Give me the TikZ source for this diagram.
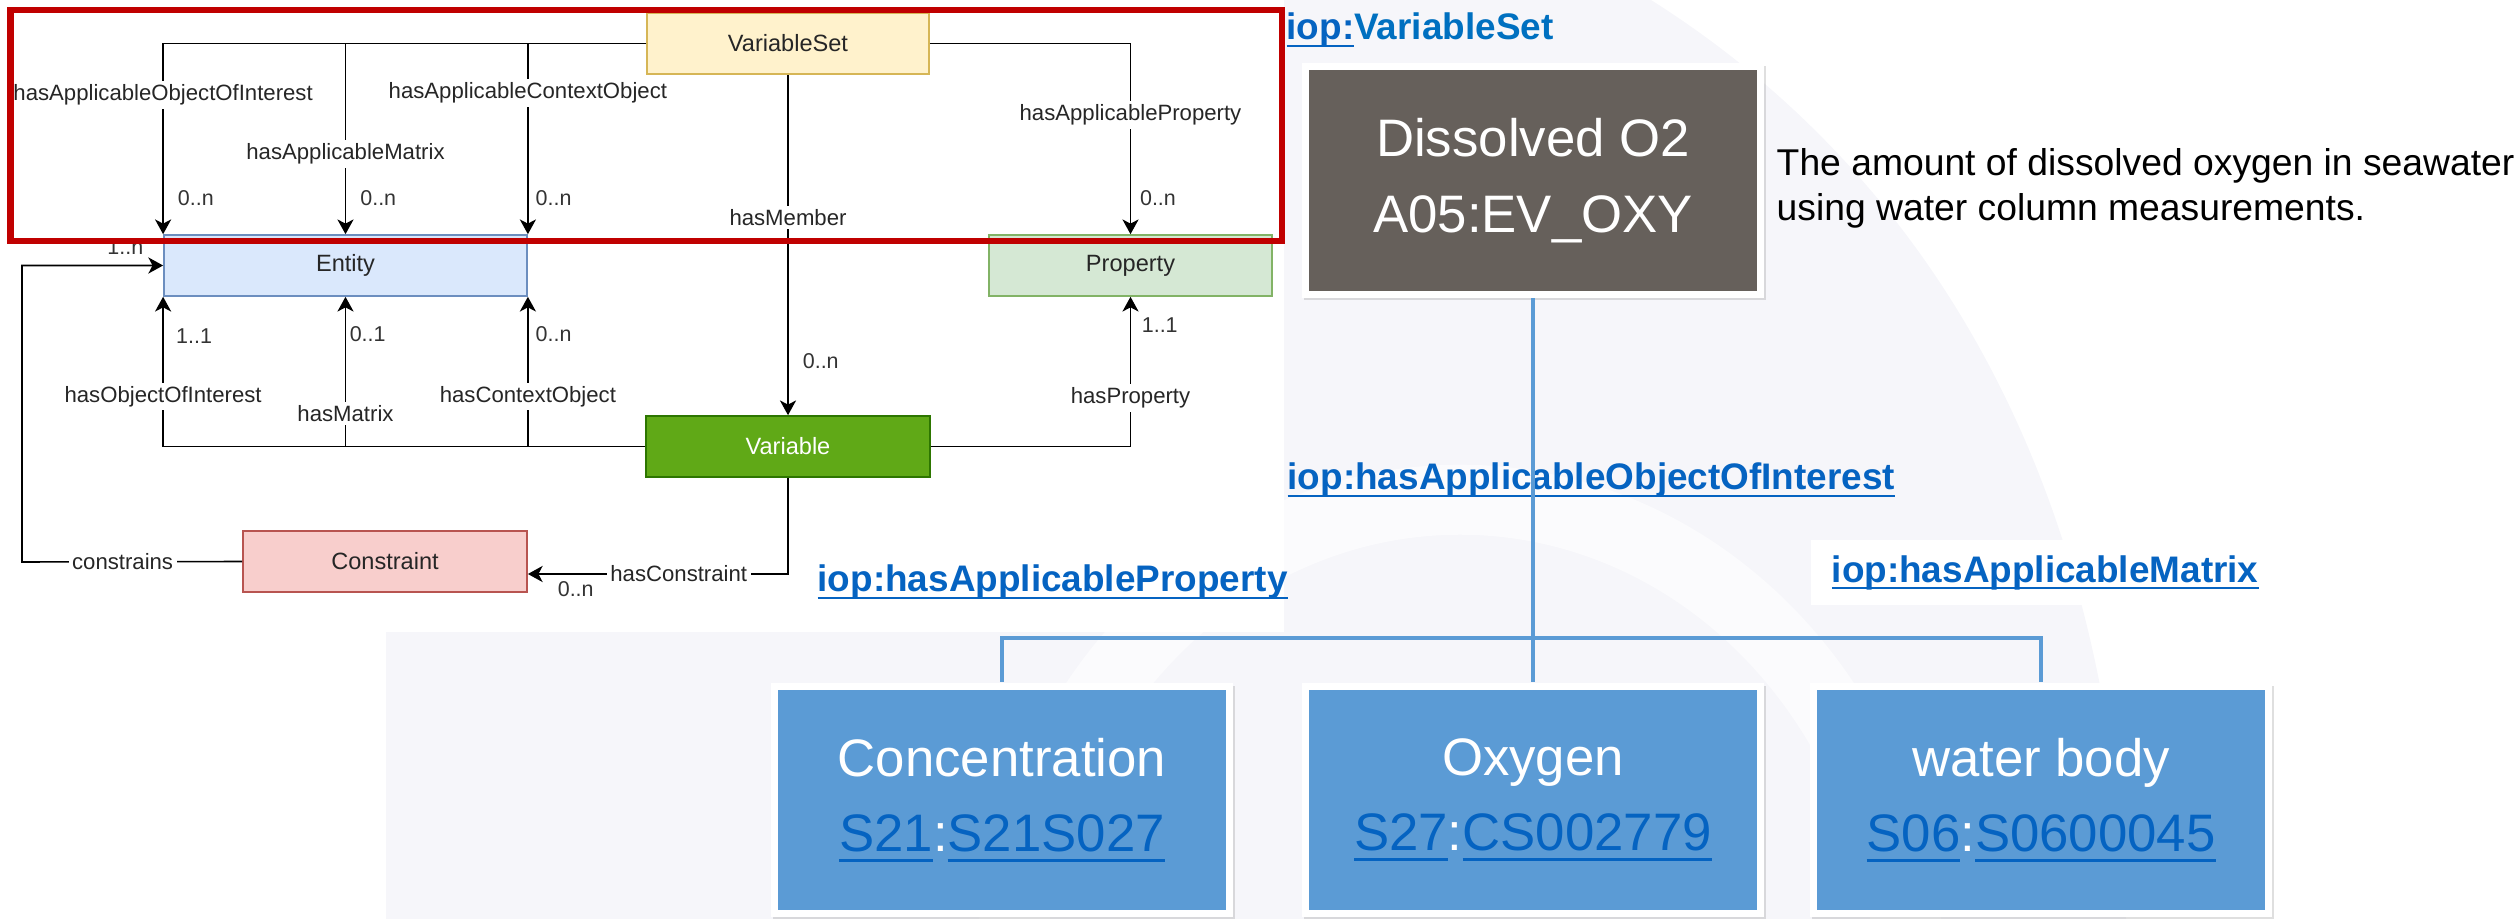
\documentclass[tikz,border=0pt]{standalone}
\usepackage{fontspec}
\setmainfont{Liberation Sans}
\usetikzlibrary{arrows.meta,positioning,shadows}

\definecolor{vsetfill}{HTML}{FFF2CC}
\definecolor{vsetline}{HTML}{D6B656}
\definecolor{entfill}{HTML}{DAE8FC}
\definecolor{entline}{HTML}{6C8EBF}
\definecolor{propfill}{HTML}{D5E8D4}
\definecolor{propline}{HTML}{82B366}
\definecolor{varfill}{HTML}{60A917}
\definecolor{varline}{HTML}{2D7600}
\definecolor{consfill}{HTML}{F8CECC}
\definecolor{consline}{HTML}{B85450}
\definecolor{framered}{HTML}{C00000}
\definecolor{slate}{HTML}{66605B}
\definecolor{cardblue}{HTML}{5B9BD5}
\definecolor{linkblue}{HTML}{0563C1}
\definecolor{iopblue}{HTML}{0070C0}
\definecolor{slidebg}{HTML}{F6F6FA}

\newcommand{\lnk}[1]{\setbox0\hbox{#1}\rlap{\rule[-0.2em]{\wd0}{0.065em}}\box0}
\newcommand{\vocab}[2]{{\color{linkblue}\lnk{#1}}:{\color{linkblue}\lnk{#2}}}

\begin{document}
\begin{tikzpicture}[
  x=0.01cm, y=-0.01cm,
  >={Stealth[length=4.2pt,width=4.6pt,inset=1.2pt]},
  box/.style={
    draw,
    line width=0.45pt,
    minimum height=0.61cm,
    inner sep=0pt,
    font=\fontsize{6.7}{8}\selectfont,
    text=black!85
  },
  lbl/.style={fill=white, inner sep=1pt, font=\fontsize{6.3}{7}\selectfont, text=black!85},
  mult/.style={inner sep=1pt, font=\fontsize{6.1}{7}\selectfont, text=black!80},
  rel/.style={->, line width=0.45pt},
  tree/.style={draw=cardblue, line width=1.4pt},
  card/.style={
    fill=white,
    minimum width=4.62cm,
    minimum height=2.34cm,
    inner sep=0pt,
    text=white,
    align=center,
    font=\fontsize{15}{21.5}\selectfont,
    drop shadow={shadow xshift=0.5pt, shadow yshift=-0.8pt, opacity=0.25},
    path picture={\fill[#1] ([xshift=0.07cm,yshift=0.07cm]path picture bounding box.south west)
      rectangle ([xshift=-0.07cm,yshift=-0.07cm]path picture bounding box.north east);}
  },
  iop/.style={anchor=west, inner sep=0pt, text=linkblue, font=\fontsize{10.5}{12}\selectfont\bfseries}
]
\useasboundingbox (0,0) rectangle (2519,919);

% Slide background
\fill[slidebg] (1284,0) -- (1651,0) .. controls (1920,170) and (2110,470) .. (2126,919)
  -- (386,919) -- (386,632) -- (1284,632) -- cycle;
\begin{scope}
  \clip (1284,0) -- (1651,0) .. controls (1920,170) and (2110,470) .. (2126,919)
    -- (386,919) -- (386,632) -- (1284,632) -- cycle;
  \draw[white, opacity=0.6, line width=0.7cm] (1460,990) ellipse [x radius=4.5cm, y radius=4.9cm];
\end{scope}

% Model boxes
\node[box, fill=vsetfill, draw=vsetline, minimum width=2.82cm] (vset) at (788,43.5) {VariableSet};
\node[box, fill=entfill, draw=entline, minimum width=3.63cm] (ent) at (345.5,265.5) {Entity};
\node[box, fill=propfill, draw=propline, minimum width=2.83cm] (prop) at (1130.5,265.5) {Property};
\node[box, fill=varfill, draw=varline, minimum width=2.84cm, text=white] (var) at (788,446.5) {Variable};
\node[box, fill=consfill, draw=consline, minimum width=2.84cm] (cons) at (385,561.5) {Constraint};
\coordinate (bend) at (22,562);

% Relations from VariableSet
\draw[rel] (vset.west) -| node[lbl, pos=0.635] {hasApplicableObjectOfInterest}
  node[mult, pos=0.906, right, xshift=3pt] {0..n} (ent.north west);
\draw[rel] (vset.west) -| node[lbl, pos=0.79] {hasApplicableMatrix}
  node[mult, pos=0.906, right, xshift=3pt] {0..n} (ent.north);
\draw[rel] (vset.west) -| node[lbl, pos=0.63] {hasApplicableContextObject}
  node[mult, pos=0.906, right, xshift=1pt] {0..n} (ent.north east);
\draw[rel] (vset.east) -| node[lbl, pos=0.6875] {hasApplicableProperty}
  node[mult, pos=0.906, right, xshift=1.5pt] {0..n} (prop.north);
\draw[rel] (vset.south) -- node[lbl, pos=0.42] {hasMember}
  node[mult, pos=0.84, right, xshift=3pt] {0..n} (var.north);

% Relations from Variable
\draw[rel] (var.west) -| node[lbl, pos=0.667] {hasObjectOfInterest}
  node[mult, pos=0.87, right, xshift=2.5pt] {1..1} (ent.south west);
\draw[rel] (var.west) -| node[lbl, pos=0.61] {hasMatrix}
  node[mult, pos=0.877, right] {0..1} (ent.south);
\draw[rel] (var.west) -| node[lbl, pos=0.667] {hasContextObject}
  node[mult, pos=0.877, right, xshift=1pt] {0..n} (ent.south east);
\draw[rel] (var.east) -| node[lbl, pos=0.663] {hasProperty}
  node[mult, pos=0.907, right, xshift=2pt] {1..1} (prop.south);
\draw[rel] (var.south) |- node[lbl, pos=0.71] {hasConstraint}
  node[mult, pos=0.908, below, yshift=-1pt] {0..n} (cons.-5.8);
\draw[rel] (cons.west) -- node[lbl, pos=0.543] {constrains} (bend)
  |- node[mult, pos=0.866, above, yshift=2pt] {1..n} (ent.west);

% Highlight frame
\draw[framered, line width=0.06cm] (10.5,10) rectangle (1282,241.5);

% Example variable
\node[iop] (vsetlink) at (1286,30) {\lnk{iop:}{\color{iopblue}VariableSet}};
\node[card=slate] (o2) at (1533,180.5) {Dissolved O2\\A05:EV\_OXY};
\node[anchor=west, inner sep=0pt, align=left, font=\fontsize{10.6}{12.8}\selectfont] (desc) at (1776,188.5)
  {The amount of dissolved oxygen in seawater\\using water column measurements.};

\node[card=cardblue] (conc) at (1002,800) {Concentration\\\vocab{S21}{S21S027}};
\node[card=cardblue] (oxy) at (1533,800) {Oxygen\\\vocab{S27}{CS002779}};
\node[card=cardblue] (water) at (2041,800) {water body\\\vocab{S06}{S0600045}};

\node[iop] (ooi) at (1287,480) {\lnk{iop:hasApplicableObjectOfInterest}};
\node[iop] (hap) at (817,582) {\lnk{iop:hasApplicableProperty}};
\node[iop, fill=white, inner xsep=0.21cm, minimum height=0.65cm] (ham) at (1810,572.5) {\lnk{iop:hasApplicableMatrix}};

% Tree connectors
\coordinate (split) at (1533,638);
\draw[tree] (o2.south) -- (split) -| (conc.north);
\draw[tree] (split) -| (water.north);
\draw[tree] (split) -- (oxy.north);

\end{tikzpicture}
\end{document}
